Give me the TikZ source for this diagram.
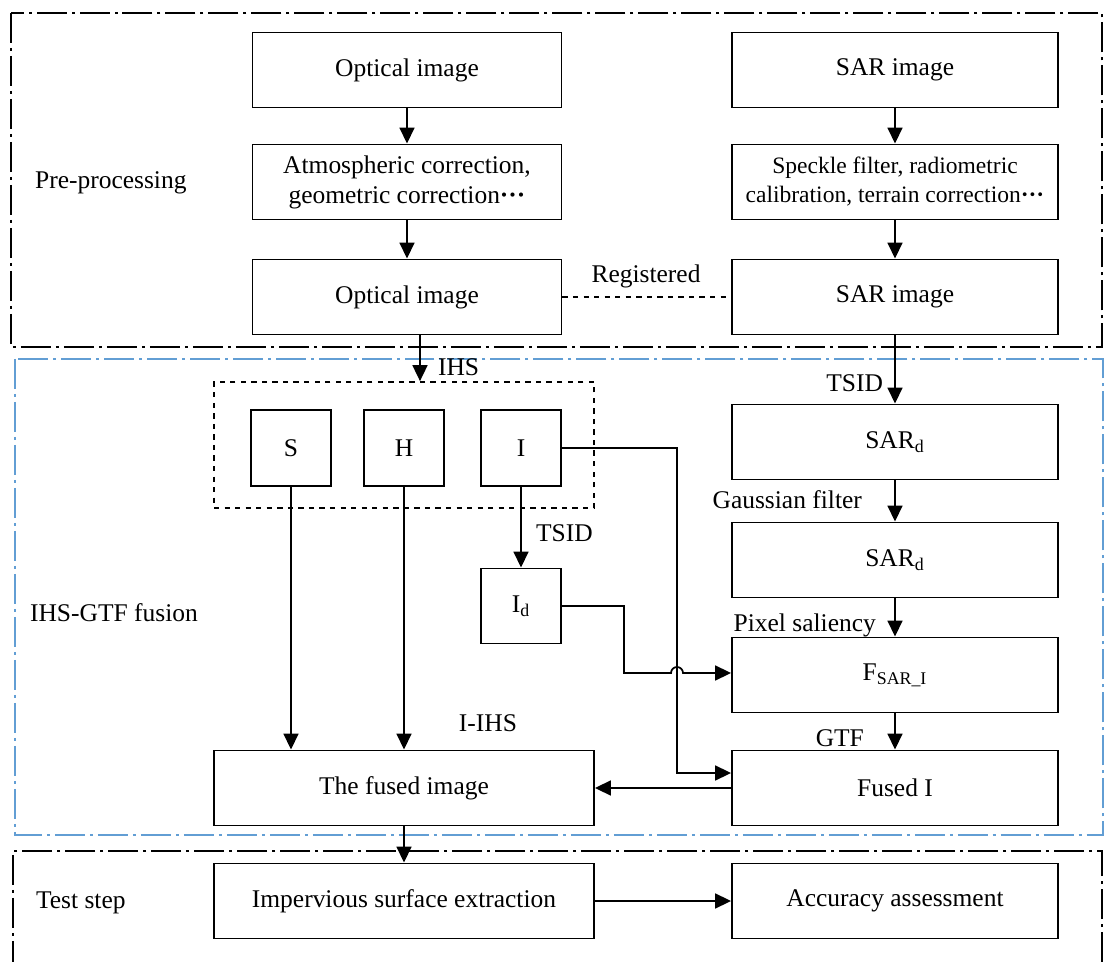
\documentclass[tikz,border=0pt]{standalone}
\usepackage{fontspec}
\setmainfont{Liberation Serif}
\usetikzlibrary{arrows.meta}
\definecolor{fusionblue}{RGB}{98,158,212}
\tikzstyle{box}=[draw, line width=1.1pt, minimum width=6.18cm, minimum height=1.5cm, align=center, inner sep=2pt]
\tikzstyle{sarbox}=[box, minimum width=6.52cm]
\tikzstyle{chan}=[box, minimum width=1.6cm, minimum height=1.52cm]
\tikzstyle{wide}=[box, minimum width=7.6cm]
\tikzstyle{link}=[-{Triangle[length=0.32cm,width=0.3cm]}, line width=1pt]
\tikzstyle{frame}=[line width=1pt, dash pattern=on 0.6cm off 0.1cm on 0.06cm off 0.1cm]
\tikzstyle{lab}=[inner sep=1pt]

\begin{document}
\begin{tikzpicture}[x=0.02cm, y=-0.02cm, font=\fontsize{14.5}{17}\selectfont]
  \useasboundingbox (0,0) rectangle (1106,962);

  %% Frames
  \draw[frame] (11,13) rectangle (1102,347);
  \draw[frame, color=fusionblue] (15,359) rectangle (1103,835);
  \draw[frame] (1102,962) -- (1102,851) -- (13,851) -- (13,962);

  \draw (33,183) node[lab, anchor=west] (PRE) {Pre-processing};
  \draw (28,613) node[lab, anchor=west] (FUS) {IHS-GTF fusion};
  \draw (34,903) node[lab, anchor=west] (TST) {Test step};

  %% Pre-processing
  \draw (407,70) node[box] (O1) {Optical image};
  \draw (407,182) node[box] (A1) {Atmospheric correction,\\geometric correction\textbf{···}};
  \draw (407,297) node[box] (O2) {Optical image};

  \draw (895,70) node[sarbox] (R1) {SAR image};
  \draw (895,182) node[sarbox, font=\fontsize{13.4}{16.5}\selectfont] (C1) {Speckle filter, radiometric\\calibration, terrain correction\textbf{···}};
  \draw (895,297) node[sarbox] (R2) {SAR image};

  \draw[link] (O1) -- (A1);
  \draw[link] (A1) -- (O2);
  \draw[link] (R1) -- (C1);
  \draw[link] (C1) -- (R2);
  \draw[dashed, line width=1pt] (O2) -- (R2);
  \draw (646,276) node[lab] (REG) {Registered};

  %% IHS-GTF fusion
  \draw (404,445) node[draw, dashed, line width=1pt, minimum width=7.6cm, minimum height=2.52cm] (IHS) {};
  \draw (291,448) node[chan] (S) {S};
  \draw (404,448) node[chan] (H) {H};
  \draw (521,448) node[chan] (I) {I};
  \draw (521,606) node[chan, minimum height=1.5cm] (Id) {I\textsubscript{d}};

  \draw (895,442) node[sarbox] (D1) {SAR\textsubscript{d}};
  \draw (895,560) node[sarbox] (D2) {SAR\textsubscript{d}};
  \draw (895,675) node[sarbox] (F) {F\textsubscript{SAR\_I}};
  \draw (895,788) node[sarbox] (FI) {Fused I};
  \draw (404,788) node[wide] (FUSED) {The fused image};

  \coordinate (ihsx) at (420,0);
  \draw[link] (O2.south -| ihsx) -- (IHS.north -| ihsx);
  \draw (436,367) node[lab, anchor=west] (LIHS) {IHS};

  \draw[link] (R2) -- (D1);
  \draw (885,383) node[lab, anchor=east] (LTS1) {TSID};
  \draw[link] (D1) -- (D2);
  \draw (864,500) node[lab, anchor=east] (LGF) {Gaussian filter};
  \draw[link] (D2) -- (F);
  \draw (878,625) node[lab, anchor=east] (LPS) {Pixel saliency};
  \draw[link] (F) -- (FI);
  \draw (866,738) node[lab, anchor=east] (LGTF) {GTF};

  \draw[link] (I) -- (Id);
  \draw (534,533) node[lab, anchor=west] (LTS2) {TSID};

  \coordinate (icorner) at (677,773);
  \draw[link] (I.east) -| (icorner) -- (icorner -| FI.west);
  \coordinate (dcorner) at (624,673);
  \draw[link] (Id.east) -| (dcorner) -- (671,673) arc[start angle=180, end angle=0, radius=0.12cm] -- (dcorner -| F.west);

  \draw[link] (S) -- (S |- FUSED.north);
  \draw[link] (H) -- (H |- FUSED.north);
  \draw (488,723) node[lab] (LIIHS) {I-IHS};
  \draw[link] (FI) -- (FUSED);

  %% Test step
  \draw (404,901) node[wide] (IMP) {Impervious surface extraction};
  \draw (895,901) node[sarbox] (ACC) {Accuracy assessment};
  \draw[link] (FUSED) -- (IMP);
  \draw[link] (IMP) -- (ACC);
\end{tikzpicture}
\end{document}
